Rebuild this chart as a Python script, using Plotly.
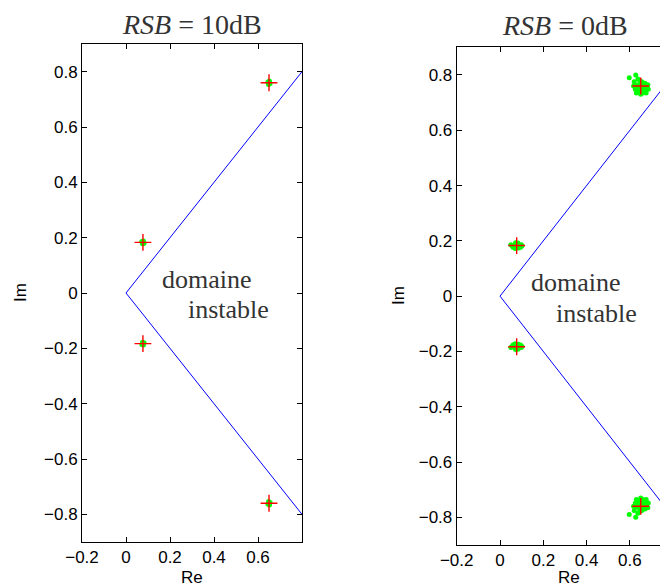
import plotly.graph_objects as go

# ---------------- data ----------------
# true poles (red crosses)
pole_re = [0.65, 0.65, 0.077, 0.077]
pole_im = [0.76, -0.76, 0.183, -0.183]

# instability boundary (blue lines)
bound_re = [0.8, 0.0, 0.8]
bound_im = [0.8, 0.0, -0.8]

# estimated poles, RSB = 10 dB (tight clusters)
est10_re = [0.65, 0.645, 0.655, 0.648, 0.652, 0.65, 0.645, 0.655, 0.648, 0.652,
            0.077, 0.072, 0.082, 0.075, 0.079, 0.077, 0.072, 0.082, 0.075, 0.079]
est10_im = [0.76, 0.763, 0.757, 0.754, 0.766, -0.76, -0.763, -0.757, -0.754, -0.766,
            0.183, 0.186, 0.18, 0.178, 0.188, -0.183, -0.186, -0.18, -0.178, -0.188]

# estimated poles, RSB = 0 dB (wider clusters)
est0_re = [0.65, 0.64, 0.66, 0.635, 0.668, 0.655, 0.645, 0.672, 0.628, 0.62,
           0.64, 0.66, 0.678, 0.685, 0.63, 0.65, 0.67, 0.637, 0.617, 0.683,
           0.655, 0.642, 0.662, 0.625, 0.675, 0.597, 0.627,
           0.65, 0.64, 0.66, 0.635, 0.668, 0.655, 0.645, 0.672, 0.628, 0.62,
           0.64, 0.66, 0.678, 0.685, 0.63, 0.65, 0.67, 0.637, 0.617, 0.683,
           0.655, 0.642, 0.662, 0.625, 0.675, 0.597, 0.627,
           0.077, 0.065, 0.09, 0.055, 0.098, 0.072, 0.085, 0.07, 0.083, 0.06, 0.095, 0.05, 0.102,
           0.077, 0.065, 0.09, 0.055, 0.098, 0.072, 0.085, 0.07, 0.083, 0.06, 0.095, 0.05, 0.102]
est0_im = [0.757, 0.765, 0.75, 0.75, 0.762, 0.775, 0.78, 0.745, 0.762, 0.775,
           0.74, 0.735, 0.758, 0.748, 0.735, 0.73, 0.77, 0.785, 0.76, 0.765,
           0.742, 0.752, 0.763, 0.748, 0.735, 0.79, 0.80,
           -0.757, -0.765, -0.75, -0.75, -0.762, -0.775, -0.78, -0.745, -0.762, -0.775,
           -0.74, -0.735, -0.758, -0.748, -0.735, -0.73, -0.77, -0.785, -0.76, -0.765,
           -0.742, -0.752, -0.763, -0.748, -0.735, -0.79, -0.80,
           0.183, 0.185, 0.18, 0.183, 0.186, 0.193, 0.174, 0.172, 0.192, 0.177, 0.177, 0.186, 0.182,
           -0.183, -0.185, -0.18, -0.183, -0.186, -0.193, -0.174, -0.172, -0.192, -0.177, -0.177, -0.186, -0.182]

x_ticks = [-0.2, 0, 0.2, 0.4, 0.6]
x_ticktext = ["\u22120.2", "0", "0.2", "0.4", "0.6"]
y_ticks = [-0.8, -0.6, -0.4, -0.2, 0, 0.2, 0.4, 0.6, 0.8]
y_ticktext = ["\u22120.8", "\u22120.6", "\u22120.4", "\u22120.2", "0", "0.2", "0.4", "0.6", "0.8"]

# the page body adds an 8px offset; lay out in page pixels and convert
OFF = 8
W, H = 668 - OFF, 588 - OFF
MT = 44 - OFF
MB = 588 - 545
PH = H - MT - MB

def px(x):
    return (x - OFF) / W

def py(y):
    return (H - MB - (y - OFF)) / PH

fig = go.Figure()

# left panel
fig.add_trace(go.Scatter(x=bound_re, y=bound_im, mode="lines",
                         line=dict(color="#0000ff", width=1), xaxis="x", yaxis="y"))
fig.add_trace(go.Scatter(x=est10_re, y=est10_im, mode="markers",
                         marker=dict(color="#00ff00", size=5), xaxis="x", yaxis="y"))
fig.add_trace(go.Scatter(x=pole_re, y=pole_im, mode="markers",
                         marker=dict(symbol="cross-thin", size=12,
                                     line=dict(color="#ff0000", width=1.4)),
                         xaxis="x", yaxis="y"))
# right panel
fig.add_trace(go.Scatter(x=bound_re, y=bound_im, mode="lines",
                         line=dict(color="#0000ff", width=1), xaxis="x2", yaxis="y2"))
fig.add_trace(go.Scatter(x=est0_re, y=est0_im, mode="markers",
                         marker=dict(color="#00ff00", size=5), xaxis="x2", yaxis="y2"))
fig.add_trace(go.Scatter(x=pole_re, y=pole_im, mode="markers",
                         marker=dict(symbol="cross-thin", size=12,
                                     line=dict(color="#ff0000", width=1.4)),
                         xaxis="x2", yaxis="y2"))

tickfont = dict(family="Liberation Sans, Arial, sans-serif", size=17, color="black")
ax_common = dict(showgrid=False, zeroline=False, showline=True, linecolor="black",
                 linewidth=1, ticks="inside", ticklen=5, tickcolor="black",
                 tickwidth=1, tickfont=tickfont, automargin=False)

fig.update_layout(
    width=W, height=H, showlegend=False,
    paper_bgcolor="white", plot_bgcolor="white",
    margin=dict(l=0, r=0, t=MT, b=MB, autoexpand=False),
    xaxis=dict(domain=[px(82), px(302)], range=[-0.2, 0.8], anchor="y",
               tickvals=x_ticks, ticktext=x_ticktext, mirror="ticks", **ax_common),
    yaxis=dict(domain=[py(542), py(44)], range=[-0.9, 0.9], anchor="x",
               tickvals=y_ticks, ticktext=y_ticktext, mirror="ticks", **ax_common),
    xaxis2=dict(domain=[px(456.7), 1.0], range=[-0.2, 0.776], anchor="y2",
                tickvals=x_ticks, ticktext=x_ticktext, mirror="ticks", **ax_common),
    yaxis2=dict(domain=[py(545), min(1.0, py(47.3))], range=[-0.9, 0.9], anchor="x2",
                tickvals=y_ticks, ticktext=y_ticktext, mirror=False, **ax_common),
)

serif = dict(family="Liberation Serif, Times New Roman, serif", size=26, color="#333333")
title_font = dict(family="Liberation Serif, Times New Roman, serif", size=28, color="#333333")
sans = dict(family="Liberation Sans, Arial, sans-serif", size=17, color="black")

ann = [
    dict(x=px(192), y=py(24), text="<i>RSB</i> = 10dB", font=title_font),
    dict(x=px(565), y=py(26), text="<i>RSB</i> = 0dB", font=title_font),
    dict(x=px(192), y=py(577), text="Re", font=sans),
    dict(x=px(569), y=py(577), text="Re", font=sans),
    dict(x=px(20), y=py(293), text="Im", font=sans, textangle=-90),
    dict(x=px(398), y=py(296), text="Im", font=sans, textangle=-90),
]
for a in ann:
    fig.add_annotation(xref="paper", yref="paper", showarrow=False,
                       xanchor="center", yanchor="middle", **a)

# in-plot labels
for xr, yr, xd, yd1, xd2, yd2 in [("x", "y", 0.367, 0.05, 0.465, -0.06),
                                  ("x2", "y2", 0.351, 0.048, 0.448, -0.062)]:
    fig.add_annotation(xref=xr, yref=yr, x=xd, y=yd1, text="domaine", showarrow=False,
                       font=serif, xanchor="center", yanchor="middle")
    fig.add_annotation(xref=xr, yref=yr, x=xd2, y=yd2, text="instable", showarrow=False,
                       font=serif, xanchor="center", yanchor="middle")

fig.write_html("out.html")
